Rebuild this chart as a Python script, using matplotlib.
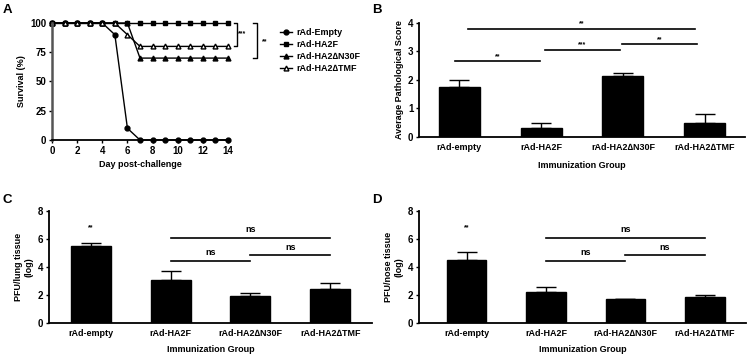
import numpy as np
import matplotlib
matplotlib.use('Agg')
import matplotlib.pyplot as plt

plt.rcParams['font.family'] = ['Liberation Sans', 'DejaVu Sans']
plt.rcParams['font.weight'] = 'bold'
plt.rcParams['axes.labelweight'] = 'bold'

# survival data (panel A)
days = list(range(15))
surv_empty = [100, 100, 100, 100, 100, 90, 10, 0, 0, 0, 0, 0, 0, 0, 0]
surv_ha2f = [100] * 15
surv_n30f = [100, 100, 100, 100, 100, 100, 100, 70, 70, 70, 70, 70, 70, 70, 70]
surv_tmf = [100, 100, 100, 100, 100, 100, 90, 80, 80, 80, 80, 80, 80, 80, 80]
legend_names = ['rAd-Empty', 'rAd-HA2F', 'rAd-HA2\u2206N30F', 'rAd-HA2\u2206TMF']

# bar panels
groups = ['rAd-empty', 'rAd-HA2F', 'rAd-HA2\u2206N30F', 'rAd-HA2\u2206TMF']
path_mean = [1.75, 0.33, 2.13, 0.50]
path_err = [0.25, 0.17, 0.12, 0.30]
lung_mean = [5.50, 3.10, 1.95, 2.40]
lung_err = [0.22, 0.62, 0.17, 0.45]
nose_mean = [4.50, 2.20, 1.68, 1.85]
nose_err = [0.55, 0.35, 0.0, 0.17]

fig = plt.figure(figsize=(7.47, 3.55), dpi=100)

W, H = 747.0, 355.0
def axes_px(l, r, t, b):
    return fig.add_axes([l / W, 1 - b / H, (r - l) / W, (b - t) / H])

def style(ax):
    for s in ['top', 'right']:
        ax.spines[s].set_visible(False)
    for s in ['left', 'bottom']:
        ax.spines[s].set_linewidth(1.3)
    ax.tick_params(labelsize=7, width=1.0, length=2.5, pad=1.5)

# ---- A ----
axA = axes_px(52, 228, 23, 140)
style(axA)
axA.spines['left'].set_color('#555555')
axA.spines['left'].set_linewidth(1.8)
kw = dict(color='black', lw=1.0, ms=3.5, clip_on=False)
axA.plot(days, surv_empty, marker='o', label=legend_names[0], **kw)
axA.plot(days, surv_ha2f, marker='s', label=legend_names[1], **kw)
axA.plot(days, surv_n30f, marker='^', label=legend_names[2], **kw)
axA.plot(days, surv_tmf, marker='^', mfc='white', label=legend_names[3], **kw)
axA.set_xlim(0, 14)
axA.set_ylim(0, 100)
axA.set_xticks(range(0, 15, 2))
axA.set_yticks([0, 25, 50, 75, 100])
axA.set_xlabel('Day post-challenge', fontsize=6.5, labelpad=3)
axA.set_ylabel('Survival (%)', fontsize=6.5, labelpad=3)
# significance brackets
axA.plot([14.45, 14.72, 14.72, 14.45], [100, 100, 80, 80], color='black', lw=1.0, clip_on=False)
axA.text(15.15, 91, '***', fontsize=5, ha='center', va='center')
axA.plot([15.95, 16.3, 16.3, 15.95], [100, 100, 70, 70], color='black', lw=1.0, clip_on=False)
axA.text(16.95, 84, '**', fontsize=5, ha='center', va='center')
axA.legend(loc='upper left', bbox_to_anchor=(280 / W, 1 - 28 / H), bbox_transform=fig.transFigure,
           frameon=False, fontsize=6.5, handlelength=1.3, handletextpad=0.5, labelspacing=0.35,
           borderaxespad=0, borderpad=0)

# ---- bars ----
def bars(ax, means, errs, ymax, yticks, ylabel, lpad):
    x = np.arange(len(groups))
    ax.bar(x, means, width=0.5, color='black', edgecolor='black')
    ax.errorbar(x, means, yerr=[np.zeros(len(x)), errs], fmt='none', ecolor='black',
                elinewidth=1.0, capsize=7, capthick=1.0)
    ax.set_ylim(0, ymax)
    ax.set_yticks(yticks)
    ax.set_xticks(x)
    ax.set_xticklabels(groups, fontsize=6.5)
    ax.tick_params(axis='x', length=0, pad=4)
    ax.set_xlabel('Immunization Group', fontsize=6.5, labelpad=lpad)
    ax.set_ylabel(ylabel, fontsize=6.5, labelpad=3)

def bracket(ax, x0, x1, y, txt, dy, fs=5):
    ax.plot([x0, x1], [y, y], color='black', lw=1.2, clip_on=False)
    ax.text((x0 + x1) / 2, y + dy, txt, fontsize=fs, ha='center', va='bottom')

axB = axes_px(419, 745, 23, 137)
style(axB)
bars(axB, path_mean, path_err, 4, [0, 1, 2, 3, 4], 'Average Pathological Score', 7)
axB.set_xlim(-0.49, 3.49)
bracket(axB, 0.11, 2.88, 3.8, '**', 0.05)
bracket(axB, -0.05, 0.99, 2.65, '**', 0.05)
bracket(axB, 1.05, 1.96, 3.05, '***', 0.05)
bracket(axB, 1.99, 2.90, 3.25, '**', 0.05)

axC = axes_px(49, 372, 211, 323)
style(axC)
bars(axC, lung_mean, lung_err, 8, [0, 2, 4, 6, 8], 'PFU/lung tissue\n(log)', 5)
axC.set_xlim(-0.52, 3.52)
axC.text(0, 6.55, '**', fontsize=5, ha='center', va='bottom')
bracket(axC, 1.0, 3.0, 6.1, 'ns', 0.25, 6.5)
bracket(axC, 1.0, 2.0, 4.45, 'ns', 0.25, 6.5)
bracket(axC, 2.0, 3.0, 4.85, 'ns', 0.25, 6.5)

axD = axes_px(419, 746, 211, 323)
style(axD)
bars(axD, nose_mean, nose_err, 8, [0, 2, 4, 6, 8], 'PFU/nose tissue\n(log)', 5)
axD.set_xlim(-0.6, 3.52)
axD.text(0, 6.55, '**', fontsize=5, ha='center', va='bottom')
bracket(axD, 1.0, 3.0, 6.1, 'ns', 0.25, 6.5)
bracket(axD, 1.0, 2.0, 4.45, 'ns', 0.25, 6.5)
bracket(axD, 2.0, 3.0, 4.85, 'ns', 0.25, 6.5)

for lab, x, y in [('A', 3, 10), ('B', 372, 10), ('C', 3, 200), ('D', 372, 200)]:
    fig.text(x / W, 1 - y / H, lab, fontsize=9.5, fontweight='bold', ha='left', va='center')

fig.savefig('out.png', dpi=100)
